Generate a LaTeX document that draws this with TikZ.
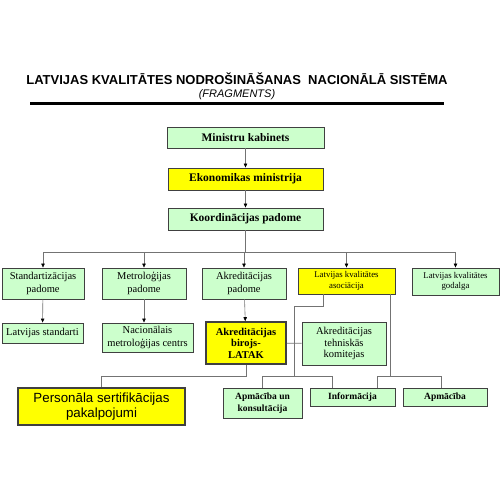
\documentclass[tikz,border=0pt]{standalone}
\usepackage{fontspec}
\setmainfont{Liberation Serif}
\setsansfont{Liberation Sans}
\usepackage{xcolor}
\definecolor{boxgreen}{HTML}{CCFFCC}
\definecolor{boxyellow}{HTML}{FFFF00}
\definecolor{linegray}{rgb}{0.45,0.45,0.45}
\usetikzlibrary{arrows.meta, positioning}

\begin{document}
\begin{tikzpicture}[x=1pt, y=-1pt, >={Triangle[length=4pt, width=3.5pt, color=black]},
  box/.style={draw=black!75, line width=0.9pt, inner sep=1pt, align=center, font=\fontsize{10.5}{13}\selectfont},
  gbox/.style={box, fill=boxgreen},
  ybox/.style={box, fill=boxyellow},
  arr/.style={->, linegray, line width=0.6pt},
  link/.style={linegray, line width=0.6pt}]
\useasboundingbox (0,0) rectangle (500,500);
% title
\node[font=\sffamily\bfseries\fontsize{13}{15}\selectfont] (title) at (237,79) {LATVIJAS KVALITĀTES NODROŠINĀŠANAS\ \ NACIONĀLĀ SISTĒMA};
\node[font=\sffamily\itshape\fontsize{11}{13}\selectfont] (subtitle) at (237,95) {(FRAGMENTS)};
\draw[line width=3pt] (30,103.5) -- (444,103.5);
% top chain
\node[gbox, minimum width=157, minimum height=21, font=\bfseries\fontsize{11.5}{13}\selectfont] (minis) at (245.5,137.5) {Ministru kabinets};
\node[ybox, minimum width=155, minimum height=22, font=\bfseries\fontsize{11.5}{13}\selectfont] (ekon) at (245.5,179) {Ekonomikas ministrija};
\node[gbox, minimum width=155, minimum height=22, font=\bfseries\fontsize{11.5}{13}\selectfont] (koord) at (245.5,219) {Koordinācijas padome};
\draw[arr] (minis) -- (ekon);
\draw[arr] (ekon) -- (koord);
% councils
\node[gbox, minimum width=82, minimum height=31] (stand) at (43,283.5) {Standartizācijas\\padome};
\node[gbox, minimum width=84, minimum height=31] (metro) at (144,283.5) {Metroloģijas\\padome};
\node[gbox, minimum width=84, minimum height=31] (akrp) at (244,283.5) {Akreditācijas\\padome};
\node[ybox, minimum width=97, minimum height=26, font=\fontsize{8.8}{10.5}\selectfont] (lka) at (346.5,281) {Latvijas kvalitātes\\asociācija};
\node[gbox, minimum width=87, minimum height=27, font=\fontsize{8.8}{10.5}\selectfont] (godalga) at (455.5,281.5) {Latvijas kvalitātes\\godalga};
\coordinate (bus) at (245.5,252);
\draw[link] (koord) -- (bus);
\foreach \n in {stand, metro, akrp, lka, godalga}
  \draw[arr] (bus) -| (\n.north);
% third row
\node[gbox, minimum width=81, minimum height=20] (lvst) at (42.5,333) {Latvijas standarti};
\node[gbox, minimum width=91, minimum height=29] (nmc) at (147.5,337.5) {Nacionālais\\metroloģijas centrs};
\node[ybox, line width=1.6pt, minimum width=80, minimum height=42, font=\bfseries\fontsize{10.5}{11.5}\selectfont] (latak) at (246,343) {Akreditācijas\\birojs-\\LATAK};
\node[gbox, minimum width=84, minimum height=43, font=\fontsize{10.5}{11.5}\selectfont] (atk) at (344,343.5) {Akreditācijas\\tehniskās\\komitejas};
\draw[arr] (stand) -- (lvst);
\draw[arr] (metro.south) -- (metro.south |- nmc.north);
\draw[arr] (akrp) -- (latak);
% services
\node[gbox, minimum width=79, minimum height=30, font=\bfseries\fontsize{9.5}{11.5}\selectfont] (apmk) at (262.5,403) {Apmācība un\\konsultācija};
\node[gbox, minimum width=85, minimum height=18, font=\bfseries\fontsize{9.5}{11.5}\selectfont] (info) at (352.5,397) {Informācija};
\node[gbox, minimum width=84, minimum height=18, font=\bfseries\fontsize{9.5}{11.5}\selectfont] (apm) at (445,397) {Apmācība};
\node[ybox, line width=1.6pt, minimum width=167, minimum height=37, font=\sffamily\fontsize{13.3}{15.5}\selectfont] (pers) at (101.5,406.5) {Personāla sertifikācijas\\pakalpojumi};
% links
\draw[link] (latak) -- (atk);
\draw[link] (latak.south) -- ++(0,11) -| (pers.north);
\draw[link] ([xshift=-23.5pt]lka.south) -- ++(0,12) -| (294,376);
\draw[link] (apmk.north) |- ([xshift=-20.5pt]info.north |- 0,376) -- ([xshift=-20.5pt]info.north);
\draw[link] ([xshift=43.5pt]lka.south) -- (390,376);
\draw[link] ([xshift=24.5pt]info.north) |- (441,376) -- (441,388);
\end{tikzpicture}
\end{document}
